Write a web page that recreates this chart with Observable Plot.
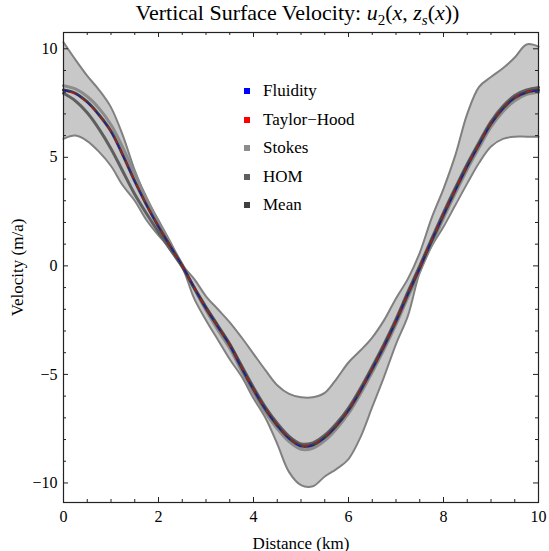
<!DOCTYPE html>
<html><head><meta charset="utf-8">
<script src="https://cdn.jsdelivr.net/npm/d3@7"></script>
<script src="https://cdn.jsdelivr.net/npm/@observablehq/plot@0.6"></script>
<style>
body{margin:0;background:#fff;}
#wrap{position:relative;width:549px;height:551px;font-family:"Liberation Serif","Times New Roman",serif;color:#000;}
#title{position:absolute;top:0;left:55px;width:485px;height:26px;line-height:26px;text-align:center;font-size:22px;white-space:nowrap;}
#chart{position:absolute;top:26px;left:0;}
#chart svg, #chart svg text{font-family:"Liberation Serif","Times New Roman",serif !important;}
#legend{position:absolute;left:244px;top:77px;font-size:17px;font-family:"Liberation Serif","Times New Roman",serif;}
.row{height:28.5px;display:flex;align-items:center;}
.sw{width:6px;height:6px;margin-right:13px;}
sub{font-size:15px;}
</style></head>
<body>
<div id="wrap">
<div id="title">Vertical Surface Velocity: <i>u</i><sub>2</sub>(<i>x</i>, <i>z</i><sub><i>s</i></sub>(<i>x</i>))</div>
<div id="chart"></div>
<div id="legend"></div>
</div>
<script>
const distance = [0,0.25,0.5,0.75,1,1.25,1.5,1.75,2,2.25,2.5,2.75,3,3.25,3.5,3.75,4,4.25,4.5,4.75,5,5.25,5.5,5.75,6,6.25,6.5,6.75,7,7.25,7.5,7.75,8,8.25,8.5,8.75,9,9.25,9.5,9.75,10];
const bandUpper = [10.3,9.5,8.75,8.1,7.3,6.0,4.4,3.1,2.1,1.1,0.05,-0.6,-1.4,-2.0,-2.6,-3.3,-4.05,-4.8,-5.5,-5.9,-6.05,-6.05,-5.85,-5.2,-4.45,-3.9,-3.3,-2.5,-1.5,-0.6,0.6,2.2,3.55,5.1,7.0,8.25,8.7,9.1,9.6,10.2,10.1];
const bandLower = [5.85,6.0,5.75,5.25,4.6,3.7,3.0,2.1,1.4,0.8,-0.05,-1.5,-2.5,-3.4,-4.3,-5.1,-6.1,-7.0,-8.2,-9.5,-10.1,-10.15,-9.7,-9.35,-8.9,-7.9,-6.5,-5.1,-3.6,-2.3,-0.3,0.9,1.8,2.8,3.8,4.75,5.5,5.85,5.95,5.95,5.95];
const stokes = [8.3,8.15,7.8,7.25,6.5,5.45,4.25,3.1,2.0,1.0,0.05,-1.05,-2.05,-2.95,-3.8,-4.85,-5.85,-6.75,-7.5,-8.1,-8.45,-8.4,-8.05,-7.5,-6.8,-5.9,-4.9,-3.85,-2.7,-1.45,-0.25,1.0,2.2,3.35,4.45,5.45,6.4,7.1,7.6,7.9,8.0];
const hom = [7.95,7.6,7.05,6.3,5.4,4.35,3.3,2.4,1.55,0.75,-0.05,-1.0,-1.9,-2.75,-3.6,-4.6,-5.6,-6.5,-7.25,-7.85,-8.2,-8.15,-7.8,-7.25,-6.55,-5.65,-4.65,-3.6,-2.45,-1.2,0.0,1.25,2.45,3.6,4.7,5.7,6.65,7.35,7.85,8.1,8.22];
const mean = [8.1,7.95,7.55,6.95,6.2,5.1,3.9,2.8,1.8,0.9,0.0,-1.0,-1.95,-2.8,-3.65,-4.7,-5.7,-6.6,-7.35,-7.95,-8.3,-8.25,-7.9,-7.35,-6.65,-5.75,-4.75,-3.7,-2.55,-1.3,-0.1,1.15,2.35,3.5,4.6,5.6,6.55,7.25,7.75,8.0,8.1];
const fluidity = [8.1,7.93,7.52,6.93,6.17,5.08,3.88,2.8,1.8,0.9,0.0,-1.0,-1.95,-2.8,-3.66,-4.7,-5.7,-6.6,-7.36,-7.97,-8.32,-8.27,-7.92,-7.36,-6.66,-5.76,-4.76,-3.7,-2.55,-1.3,-0.1,1.15,2.33,3.47,4.57,5.57,6.52,7.22,7.73,7.98,8.08];
const taylorHood = [8.08,7.92,7.53,6.94,6.19,5.11,3.92,2.82,1.81,0.9,0.0,-1.0,-1.95,-2.8,-3.64,-4.68,-5.68,-6.58,-7.33,-7.93,-8.28,-8.23,-7.88,-7.33,-6.63,-5.73,-4.73,-3.68,-2.53,-1.28,-0.08,1.17,2.36,3.51,4.61,5.61,6.56,7.26,7.76,8.01,8.1];

const xMajor = [0,2,4,6,8,10];
const xMinor = [0.5,1,1.5,2.5,3,3.5,4.5,5,5.5,6.5,7,7.5,8.5,9,9.5];
const yMajor = [-10,-5,0,5,10];
const yMinor = [-9,-8,-7,-6,-4,-3,-2,-1,1,2,3,4,6,7,8,9];

const seriesNames = ["Fluidity","Taylor\u2212Hood","Stokes","HOM","Mean"];
const seriesColors = ["#0000ff","#ff0000","#8c8c8c","#5f5f5f","#404040"];

const rows = distance.map((x,i)=>({x, up:bandUpper[i], lo:bandLower[i], stokes:stokes[i], hom:hom[i], mean:mean[i], fl:fluidity[i], th:taylorHood[i]}));

const W = 549, H = 525, mt = 6, mb = 49, ml = 63, mr = 11;
const ih = H - mt - mb, iw = W - ml - mr;
const curve = "catmull-rom";
const fmt = d => d < 0 ? "\u2212" + Math.abs(d) : String(d);

const chart = Plot.plot({
  width: W, height: H,
  marginTop: mt, marginBottom: mb, marginLeft: ml, marginRight: mr,
  style: {fontFamily: "'Liberation Serif', 'Times New Roman', serif", fontSize: "16px", color: "#000", background: "#fff"},
  x: {domain: [0,10]},
  y: {domain: [-10.9,10.75]},
  marks: [
    Plot.areaY(rows, {x:"x", y1:"lo", y2:"up", fill:"#c8c8c8", curve}),
    Plot.line(rows, {x:"x", y:"up", stroke:"#808080", strokeWidth:2, curve}),
    Plot.line(rows, {x:"x", y:"lo", stroke:"#808080", strokeWidth:2, curve}),
    Plot.line(rows, {x:"x", y:"stokes", stroke:seriesColors[2], strokeWidth:3, curve}),
    Plot.line(rows, {x:"x", y:"hom", stroke:seriesColors[3], strokeWidth:3, curve}),
    Plot.line(rows, {x:"x", y:"mean", stroke:seriesColors[4], strokeWidth:3, curve}),
    Plot.line(rows, {x:"x", y:"fl", stroke:seriesColors[0], strokeWidth:1, strokeOpacity:0.8, strokeDasharray:"6,7", curve}),
    Plot.line(rows, {x:"x", y:"th", stroke:seriesColors[1], strokeWidth:1, strokeOpacity:0.8, strokeDasharray:"6,7", strokeDashoffset:6, curve}),
    Plot.frame({stroke:"#222", strokeWidth:1.2}),
    Plot.tickX(xMajor, {x:d=>d, stroke:"#222", insetTop: ih-5}),
    Plot.tickX(xMajor, {x:d=>d, stroke:"#222", insetBottom: ih-5}),
    Plot.tickX(xMinor, {x:d=>d, stroke:"#222", insetTop: ih-3}),
    Plot.tickX(xMinor, {x:d=>d, stroke:"#222", insetBottom: ih-3}),
    Plot.tickY(yMajor, {y:d=>d, stroke:"#222", insetRight: iw-5}),
    Plot.tickY(yMajor, {y:d=>d, stroke:"#222", insetLeft: iw-5}),
    Plot.tickY(yMinor, {y:d=>d, stroke:"#222", insetRight: iw-3}),
    Plot.tickY(yMinor, {y:d=>d, stroke:"#222", insetLeft: iw-3}),
    Plot.axisX({ticks: xMajor, tickSize: 0, tickPadding: 8, tickFormat: fmt, fontSize: 16, label: null}),
    Plot.axisX({ticks: [], tickSize: 0, fontSize: 17, label: "Distance (km)", labelAnchor: "center", labelArrow: "none", labelOffset: 46}),
    Plot.axisY({ticks: yMajor, tickSize: 0, tickPadding: 6, tickFormat: fmt, fontSize: 16, label: null}),
    Plot.axisY({ticks: [], tickSize: 0, fontSize: 17, label: "Velocity (m/a)", labelAnchor: "center", labelArrow: "none", labelOffset: 53})
  ]
});
document.getElementById("chart").appendChild(chart);

const leg = document.getElementById("legend");
seriesNames.forEach((n,i)=>{
  const r = document.createElement("div"); r.className="row";
  const s = document.createElement("div"); s.className="sw"; s.style.background = seriesColors[i];
  const t = document.createElement("span"); t.textContent = n;
  r.appendChild(s); r.appendChild(t); leg.appendChild(r);
});
</script>
</body></html>
